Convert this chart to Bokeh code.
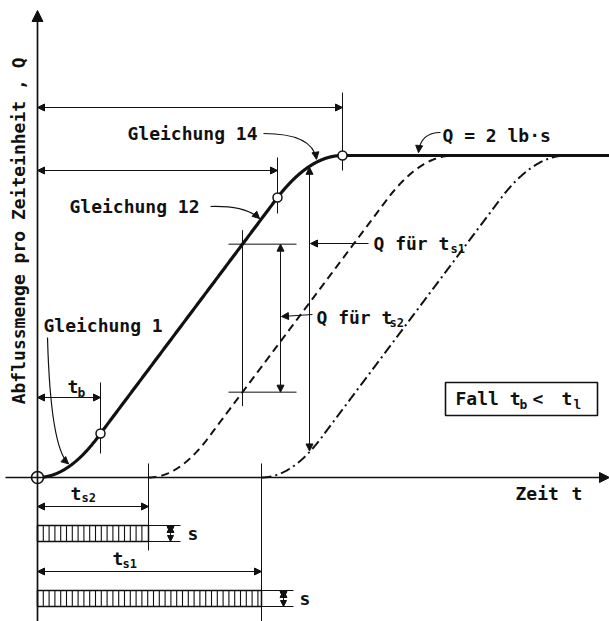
import numpy as np
from bokeh.plotting import figure
from bokeh.models import Range1d, Arrow, NormalHead, ColumnDataSource
from bokeh.core.properties import value
from bokeh.embed import file_html
from bokeh.resources import INLINE

INK = "#111111"
FONT = "DejaVu Sans Mono"

# Outflow hydrograph: characteristic points (time t, discharge Q)
T_KNOTS = [0, 63, 240, 305]     # start, t_b, end of Gleichung 12, start of plateau (Gleichung 14)
Q_KNOTS = [0, 44, 280, 322]     # discharge at those times; plateau Q = 2 lb·s
T_S2 = 111                      # rain duration t_s2
T_S1 = 224                      # rain duration t_s1
RAIN_S = 16                     # rain intensity s (height of the rain bars)
T_RANGE = [-37, 572]
Q_RANGE = [-144, 477]


def q_solid(t):
    """Piecewise hydrograph: parabola (Gl. 1), straight line (Gl. 12), parabola (Gl. 14), plateau."""
    t = np.asarray(t, dtype=float)
    _, tb, t12, t14 = T_KNOTS
    _, qb, q12, qmax = Q_KNOTS
    seg1 = qb * (t / tb) ** 2
    seg2 = qb + (t - tb) * (q12 - qb) / (t12 - tb)
    seg3 = qmax - (qmax - q12) * ((t14 - t) / (t14 - t12)) ** 2
    return np.select([t <= 0, t <= tb, t <= t12, t <= t14], [0.0 * t, seg1, seg2, seg3], qmax)


p = figure(width=609, height=621,
           x_range=Range1d(*T_RANGE), y_range=Range1d(*Q_RANGE),
           x_axis_type=None, y_axis_type=None,
           output_backend="svg", toolbar_location=None, min_border=0)
p.outline_line_color = None
p.background_fill_color = "white"
p.border_fill_color = "white"


def head(size=7):
    return NormalHead(size=size, fill_color=INK, line_color=INK, line_width=1)


def segs(x0, y0, x1, y1, width=1.0):
    p.segment(x0=x0, y0=y0, x1=x1, y1=y1, line_color=INK, line_width=width)


def label(x, y, s, size=18, align="left", angle=0.0):
    p.text(x=[x], y=[y], text=[s], text_font=value(FONT), text_font_size=f"{size}px",
           text_font_style="bold", text_align=align, text_baseline="middle",
           text_color=INK, angle=angle)


t_max = T_RANGE[1]
t14 = T_KNOTS[3]

# --- axes -------------------------------------------------------------------
p.add_layout(Arrow(end=head(11), x_start=0, y_start=Q_RANGE[0], x_end=0, y_end=Q_RANGE[1] - 10,
                   line_color=INK, line_width=1.7))
p.add_layout(Arrow(end=head(10), x_start=T_RANGE[0] + 5, y_start=0, x_end=t_max, y_end=0,
                   line_color=INK, line_width=1.7))

# --- hydrographs ------------------------------------------------------------
t = np.linspace(0, t_max, 1500)
p.line(t, q_solid(t), line_color=INK, line_width=3.2)

t2 = np.linspace(T_S2, t14 + T_S2, 600)
p.line(t2, q_solid(t2 - T_S2), line_color=INK, line_width=2, line_dash="8 5")

t1 = np.linspace(T_S1, t14 + T_S1, 600)
p.line(t1, q_solid(t1 - T_S1), line_color=INK, line_width=2, line_dash="10 4 2 4")

# --- extension lines (thin) -------------------------------------------------
t_dim = 205          # station of the Q(t_s2) measurement
t_dim1 = 272         # station of the Q(t_s1) measurement
q_hi = float(q_solid(t_dim))
q_lo = float(q_solid(t_dim - T_S2))
segs([t14, T_KNOTS[2], T_KNOTS[1], T_S2, T_S1, t_dim],
     [385, 320, 95, 14, 14, q_hi + 14],
     [t14, T_KNOTS[2], T_KNOTS[1], T_S2, T_S1, t_dim],
     [307, 264, 24, -73, Q_RANGE[0], q_lo - 14])
segs([t_dim - 14, t_dim - 14], [q_hi, q_lo], [t_dim + 54, t_dim + 54], [q_hi, q_lo])

# --- rain bars (duration t_s, intensity s) ----------------------------------
for dur, top in [(T_S2, -48), (T_S1, -113)]:
    bottom = top - RAIN_S
    p.quad(left=[0], right=[dur], top=[top], bottom=[bottom],
           fill_color=None, line_color=INK, line_width=1.5)
    xs = np.arange(5.8, dur - 1, 5.8)
    segs(xs, np.full_like(xs, top), xs, np.full_like(xs, bottom), width=1.1)
    segs([dur, dur], [top, bottom], [dur + 32, dur + 32], [top, bottom])

# --- dimension arrows (both ends) -------------------------------------------
q_s1_hi = float(q_solid(t_dim1))
q_s1_lo = float(q_solid(t_dim1 - T_S1))
dims = ColumnDataSource(dict(
    x0=[0, 0, 0, 0, 0, t_dim + 38, t_dim1, T_S2 + 22, T_S1 + 22],
    y0=[370, 307, 80, -29, -94, q_hi, q_s1_hi - 1, -56, -121],
    x1=[t14, T_KNOTS[2], T_KNOTS[1], T_S2, T_S1, t_dim + 38, t_dim1, T_S2 + 22, T_S1 + 22],
    y1=[370, 307, 80, -29, -94, q_lo, q_s1_lo + 1, -48, -113],
))
p.add_layout(Arrow(start=head(7), end=head(7), source=dims,
                   x_start="x0", y_start="y0", x_end="x1", y_end="y1",
                   line_color=INK, line_width=1))
# lower half of the small s-arrows
s_dims = ColumnDataSource(dict(x0=[T_S2 + 22, T_S1 + 22], y0=[-56, -121],
                               x1=[T_S2 + 22, T_S1 + 22], y1=[-64, -129]))
p.add_layout(Arrow(end=head(6), source=s_dims, x_start="x0", y_start="y0",
                   x_end="x1", y_end="y1", line_color=INK, line_width=1))

# --- straight pointers ------------------------------------------------------
ptr = ColumnDataSource(dict(x0=[331, 275], y0=[234, 163], x1=[t_dim1 + 1, t_dim + 39], y1=[234, 161]))
p.add_layout(Arrow(end=head(7), source=ptr, x_start="x0", y_start="y0",
                   x_end="x1", y_end="y1", line_color=INK, line_width=1))

# --- curved pointers to the equations ----------------------------------------
curved = [
    # start, control, end time (end sits on the curve)
    ((226, 344), (275, 344), 279),   # Gleichung 14
    ((173, 271), (208, 272), 222),   # Gleichung 12
    ((10, 140), (13, 30), 31),       # Gleichung 1
    ((403, 345), (383, 345), 381),   # Q = 2 lb·s
]
for (sx, sy), (cx, cy), ex in curved:
    ey = float(q_solid(ex)) + 3
    p.quadratic(x0=[sx], y0=[sy], cx=[cx], cy=[cy], x1=[ex], y1=[ey],
                line_color=INK, line_width=1.2)
    dx, dy = ex - cx, ey - cy
    n = np.hypot(dx, dy)
    p.add_layout(Arrow(end=head(7), x_start=ex - 4 * dx / n, y_start=ey - 4 * dy / n,
                       x_end=ex, y_end=ey, line_alpha=0))

# --- points on the hydrograph -----------------------------------------------
p.scatter(x=[T_KNOTS[0]], y=[Q_KNOTS[0]], size=12, fill_color="white", line_color=INK, line_width=1.6)
p.scatter(x=T_KNOTS[1:], y=Q_KNOTS[1:], size=9, fill_color="white", line_color=INK, line_width=1.5)

# --- case box ---------------------------------------------------------------
p.quad(left=[408], right=[560], top=[95], bottom=[62], fill_color=None, line_color=INK, line_width=1.6)

# --- texts ------------------------------------------------------------------
label(-19, 252, "Abflussmenge  pro Zeiteinheit , Q", size=18, align="center", angle=np.pi / 2)
label(90, 344, "Gleichung 14")
label(32, 271, "Gleichung 12")
label(6, 152, "Gleichung 1")
label(405, 342, "Q = 2 lb·s")
label(336, 234, "Q für t")
label(413, 229, "s1", size=12)
label(279, 160, "Q für t")
label(352, 155, "s2", size=12)
label(30, 91, "t")
label(40, 85, "b", size=13)
label(33, -16, "t")
label(44, -20, "s2", size=12)
label(75, -81, "t")
label(85, -86, "s1", size=12)
label(150, -56, "s")
label(262, -121, "s")
label(478, -16, "Zeit")
label(534, -16, "t")
label(418, 79, "Fall t")
label(482, 73, "b", size=13)
label(495, 79, "<")
label(524, 79, "t")
label(536, 73, "l", size=13)

open("out.html", "w").write(file_html(p, INLINE))
